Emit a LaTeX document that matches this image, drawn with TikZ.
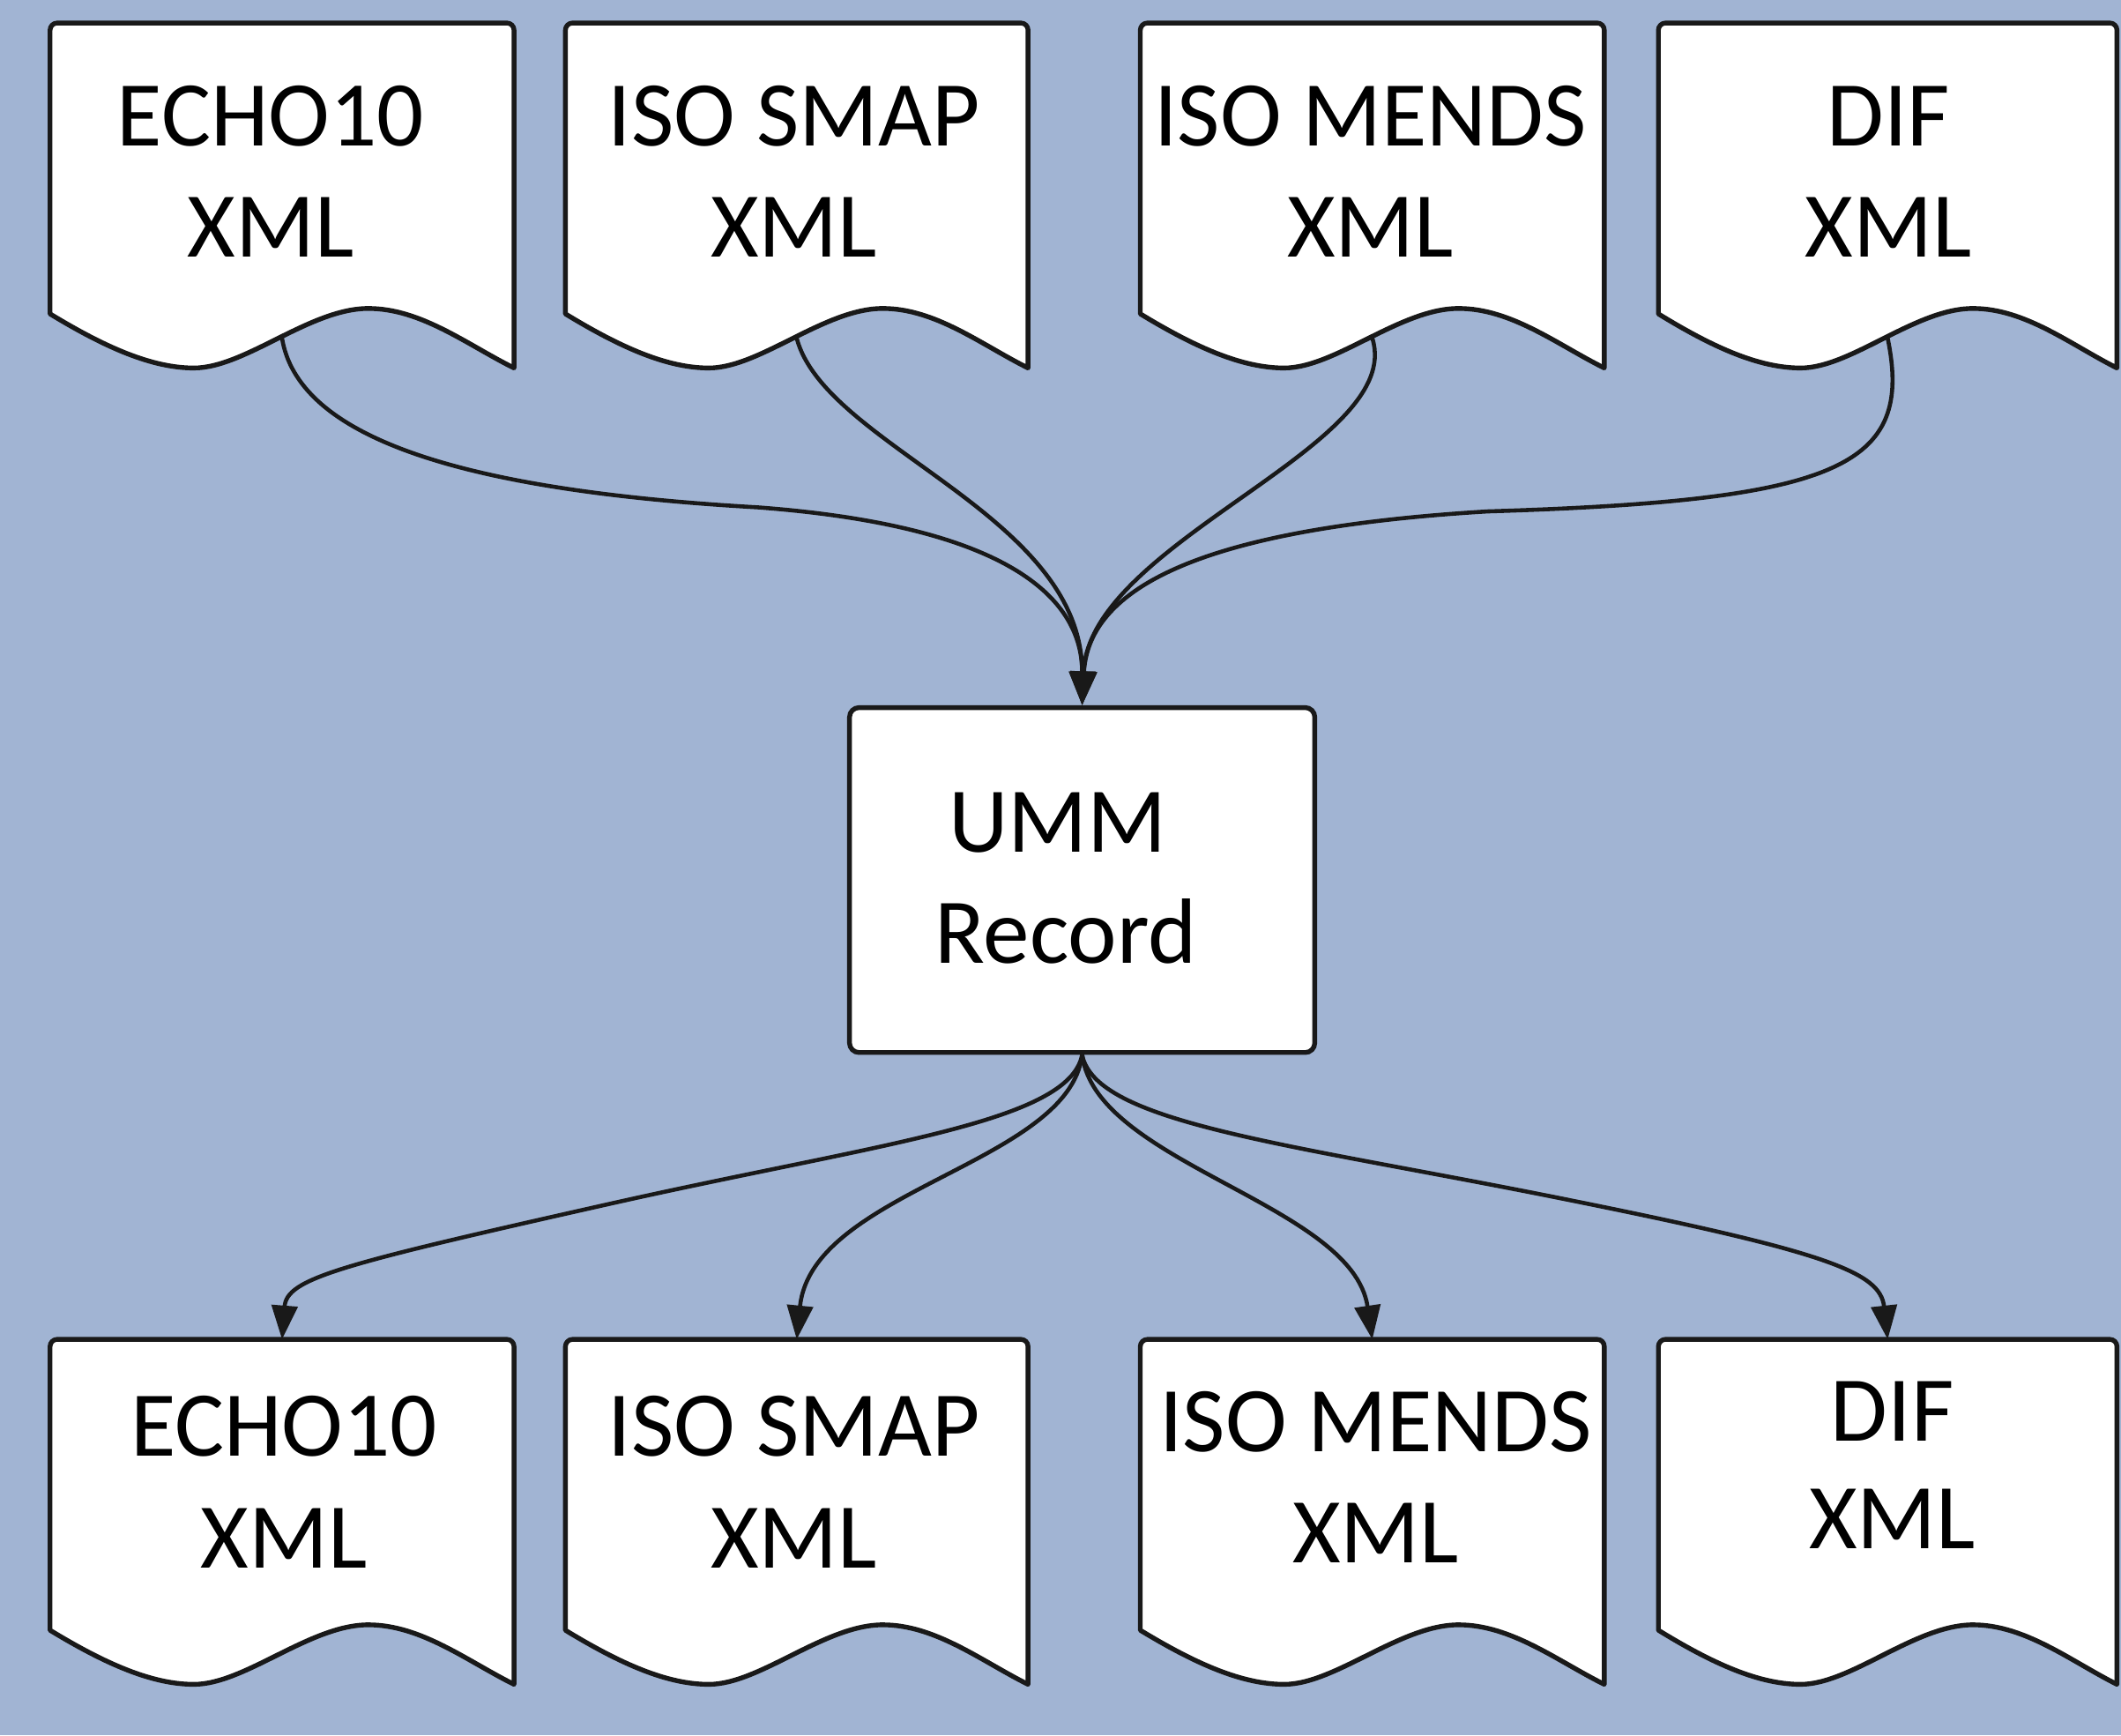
\documentclass[tikz,border=0pt]{standalone}
\usepackage{fontspec}
\setmainfont{Carlito}
\usetikzlibrary{arrows.meta}
\definecolor{bgblue}{RGB}{161,180,211}
\definecolor{edge}{RGB}{25,25,25}
\tikzset{
  docline/.style={draw=edge, line width=2pt, fill=white, line join=round},
  conn/.style={draw=edge, line width=1.7pt, -{Triangle[length=0.5cm,width=0.38cm]}},
  lbl/.style={font=\fontsize{39}{46}\selectfont, anchor=base, inner sep=0pt},
  ummbox/.style={draw=edge, line width=2pt, fill=white, rounded corners=4pt,
    minimum width=6.88cm, minimum height=5.1cm, inner sep=0pt},
}
% #1 left x, #2 top y, #3 width, #4 name
\newcommand\docshape[4]{%
  \draw[docline] (#1,#2) [rounded corners=3pt] -- ({#1+#3},#2) [sharp corners] -- ({#1+#3},{#2+255})
    .. controls ({#1+0.90*#3},{#2+238}) and ({#1+0.80*#3},{#2+211}) .. ({#1+0.686*#3},{#2+211})
    .. controls ({#1+0.56*#3},{#2+211}) and ({#1+0.42*#3},{#2+255}) .. ({#1+0.31*#3},{#2+255})
    .. controls ({#1+0.22*#3},{#2+255}) and ({#1+0.12*#3},{#2+240}) .. (#1,{#2+215})
    [rounded corners=3pt] -- cycle;
  \coordinate (#4w) at ({#1+0.5*#3},{#2+233});
  \coordinate (#4n) at ({#1+0.5*#3},#2);
}
\begin{document}
\begin{tikzpicture}[x=0.02cm,y=-0.02cm]
  \fill[bgblue] (0,0) rectangle (1568,1282.6);
  \useasboundingbox (0,0) rectangle (1568,1282.6);

  % top documents
  \docshape{37}{17}{343}{d1}
  \docshape{418}{17}{342}{d2}
  \docshape{843}{17}{343}{d3}
  \docshape{1226}{17}{339}{d4}
  \node[lbl] (t1a) at (200,108) {ECHO10};
  \node[lbl] (t1b) at (200,190) {XML};
  \node[lbl] (t2a) at (587,108) {ISO SMAP};
  \node[lbl] (t2b) at (587,190) {XML};
  \node[lbl] (t3a) at (1013,108) {ISO MENDS};
  \node[lbl] (t3b) at (1013,190) {XML};
  \node[lbl] (t4a) at (1396,108) {DIF};
  \node[lbl] (t4b) at (1396,190) {XML};

  % UMM record
  \node[ummbox] (umm) at (800,650.5) {};
  \node[lbl] (ua) at (782,630) {UMM};
  \node[lbl] (ub) at (788,712) {Record};

  % bottom documents
  \docshape{37}{990}{343}{b1}
  \docshape{418}{990}{342}{b2}
  \docshape{843}{990}{343}{b3}
  \docshape{1226}{990}{339}{b4}
  \node[lbl] (s1a) at (210,1076) {ECHO10};
  \node[lbl] (s1b) at (210,1159) {XML};
  \node[lbl] (s2a) at (587,1076) {ISO SMAP};
  \node[lbl] (s2b) at (587,1159) {XML};
  \node[lbl] (s3a) at (1017,1073) {ISO MENDS};
  \node[lbl] (s3b) at (1017,1155) {XML};
  \node[lbl] (s4a) at (1399,1065) {DIF};
  \node[lbl] (s4b) at (1399,1145) {XML};

  % connectors into UMM
  \draw[conn] (d1w) .. controls (220,320) and (330,362) .. (560,375)
                    .. controls (760,390) and (800,450) .. (umm.north);
  \draw[conn] (d2w) .. controls (610,330) and (800,380) .. (umm.north);
  \draw[conn] (d3w) .. controls (1040,330) and (805,400) .. (umm.north);
  \draw[conn] (d4w) .. controls (1415,345) and (1360,370) .. (1100,378)
                    .. controls (900,390) and (805,430) .. (umm.north);

  % connectors out of UMM
  \draw[conn] (umm.south) .. controls (790,830) and (650,845) .. (450,890)
                          .. controls (250,935) and (212,945) .. (b1n);
  \draw[conn] (umm.south) .. controls (790,860) and (600,880) .. (b2n);
  \draw[conn] (umm.south) .. controls (810,860) and (1000,890) .. (b3n);
  \draw[conn] (umm.south) .. controls (810,830) and (950,845) .. (1150,885)
                          .. controls (1350,925) and (1390,940) .. (b4n);
\end{tikzpicture}
\end{document}
